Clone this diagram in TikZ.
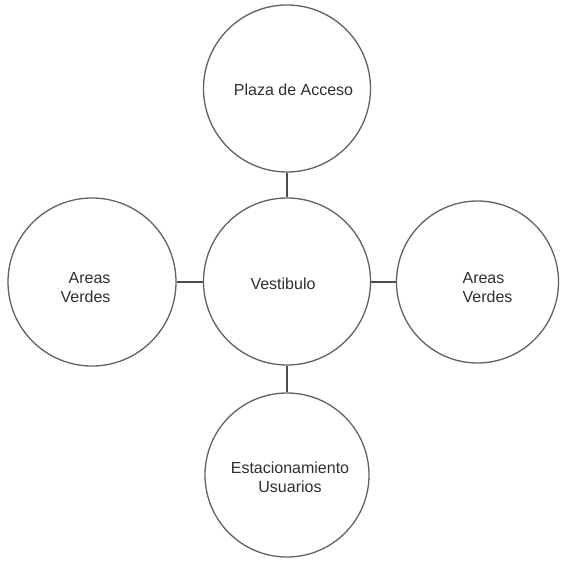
\documentclass[tikz,border=0pt]{standalone}
\usepackage{fontspec}
\setmainfont{Liberation Sans}
\begin{document}
\begin{tikzpicture}[x=1pt,y=-1pt,
  room/.style={circle,draw=black!62,line width=1.3pt,inner sep=0pt},
  lbl/.style={text=black!82,font=\fontsize{16}{19}\selectfont,inner sep=0pt},
  link/.style={draw=black!70,line width=1.3pt}]
\useasboundingbox (0,0) rectangle (560,561);
\node[room,minimum size=167pt] (top) at (287,88.5) {};
\node[room,minimum size=167pt] (mid) at (287,281.5) {};
\node[room,minimum size=168pt] (left) at (92,282) {};
\node[room,minimum size=162pt] (right) at (477.5,282) {};
\node[room,minimum size=164pt] (bot) at (287,475) {};
\node[lbl] (ttop) at (293.5,90) {Plaza de Acceso};
\node[lbl] (tmid) at (283,284) {Vestibulo};
\node[lbl,align=right] (tleft) at (85.5,288) {Areas\\Verdes};
\node[lbl,align=left] (tright) at (487.5,288) {Areas\\Verdes};
\node[lbl,align=center] (tbot) at (290,477.5) {Estacionamiento\\Usuarios};
\draw[link] (top.south) -- (mid.north);
\draw[link] (mid.south) -- (bot.north);
\draw[link] (left.east) -- (left.east -| mid.west);
\draw[link] (right.west) -- (right.west -| mid.east);
\end{tikzpicture}
\end{document}
